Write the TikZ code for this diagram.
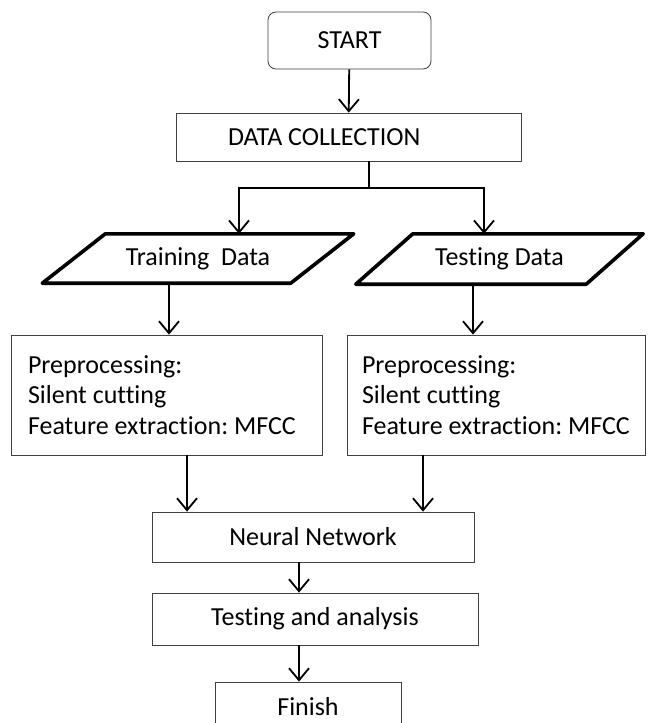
\documentclass[tikz,border=0pt]{standalone}
\usepackage{fontspec}
\setmainfont{Carlito}[Ligatures=NoCommon]
\usetikzlibrary{arrows.meta,positioning,calc}
\definecolor{edge}{HTML}{404040}
\frenchspacing

\tikzset{
  box/.style={draw=edge, line width=0.8pt, inner sep=0pt, font=\fontsize{26}{30.5}\selectfont},
  databox/.style={inner sep=0pt, font=\fontsize{26}{30.5}\selectfont},
  databorder/.style={draw=black, line width=3.6pt, line join=round},
  flow/.style={line width=1.8pt, -{Straight Barb[length=12pt,width=20pt]}},
}

\begin{document}
\begin{tikzpicture}[x=1pt, y=-1pt]
  \path[fill=white] (0,0) rectangle (648,723);
  \clip (0,0) rectangle (648,723);

  % blocks
  \node[box, rounded corners=8pt, minimum width=163pt, minimum height=57pt] (start) at (349.5,40.5) {START};
  \node[box, minimum height=48pt, inner xsep=52pt, text width=241pt, align=flush left] (collect) at (348.5,137) {DATA COLLECTION};
  \node[databox, minimum width=248pt, minimum height=49pt] (train) at (198,258.5) {Training\ \ Data};
  \node[databox, minimum width=230pt, minimum height=50pt] (test) at (499.5,259) {Testing Data};
  \node[box, minimum height=120pt, inner xsep=17pt, text width=277pt, align=flush left] (prepL) at (166.5,395) {Preprocessing:\\Silent cutting\\Feature extraction: MFCC};
  \node[box, minimum height=120pt, inner xsep=15pt, text width=268pt, align=flush left] (prepR) at (496,395) {Preprocessing:\\Silent cutting\\Feature extraction: MFCC};
  \node[box, minimum width=322pt, minimum height=50pt] (nn) at (313,537) {Neural Network};
  \node[box, minimum width=326pt, minimum height=52pt] (eval) at (315,619) {Testing and analysis};
  \node[box, minimum width=186pt, minimum height=50pt] (finish) at (308,707) {Finish};

  % slanted outline of the two data blocks
  \foreach \n/\s in {train/31.5, test/28.5}
    \draw[databorder] ([xshift=-\s pt]\n.south west) -- ([xshift=\s pt]\n.north west)
      -- ([xshift=\s pt]\n.north east) -- ([xshift=-\s pt]\n.south east) -- cycle;

  % split after data collection
  \coordinate (split) at (369,188);
  \coordinate (brL) at (239,188);
  \coordinate (brR) at (484,188);

  % connectors
  \draw[flow] (start) -- (collect);
  \draw[line width=1.8pt] (collect.south -| split) -- (split);
  \draw[flow] (split) -| (brL |- train.north);
  \draw[flow] (split) -| (brR |- test.north);
  \draw[flow] ([xshift=-29pt]train.south) -- ([xshift=-29pt]train.south |- prepL.north);
  \draw[flow] ([xshift=-26.5pt]test.south) -- ([xshift=-26.5pt]test.south |- prepR.north);
  \draw[flow] ([xshift=20.5pt]prepL.south) -- ([xshift=20.5pt]prepL.south |- nn.north);
  \draw[flow] ([xshift=-73pt]prepR.south) -- ([xshift=-73pt]prepR.south |- nn.north);
  \draw[flow] ([xshift=-14pt]nn.south) -- ([xshift=-14pt]nn.south |- eval.north);
  \draw[flow] ([xshift=-16pt]eval.south) -- ([xshift=-16pt]eval.south |- finish.north);
\end{tikzpicture}
\end{document}
